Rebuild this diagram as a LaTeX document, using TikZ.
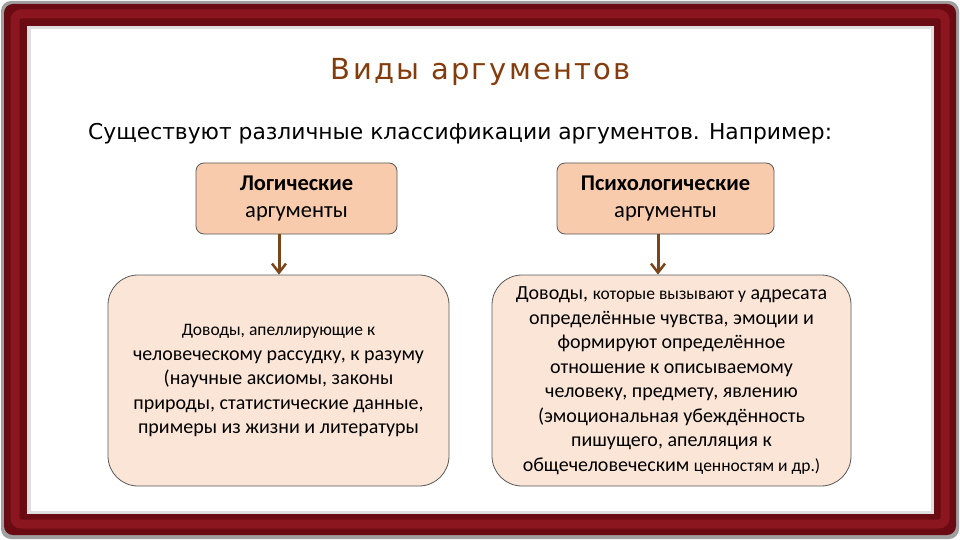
\documentclass[tikz,border=0pt]{standalone}
\usepackage{fontspec}
\setmainfont{Carlito}
\newfontfamily\dejavu{DejaVu Sans}
\usetikzlibrary{arrows.meta}
\definecolor{framered}{HTML}{6A0A12}
\definecolor{framemid}{HTML}{8C1620}
\definecolor{titlebrown}{HTML}{843C0C}
\definecolor{peach}{HTML}{F8CBAD}
\definecolor{lightpeach}{HTML}{FBE5D6}
\definecolor{arrbrown}{HTML}{7B4419}
\tikzset{
  smallbox/.style={draw=gray!70!black, fill=peach, rounded corners=8pt, line width=0.8pt, align=center, font=\fontsize{22.5}{27}\selectfont, inner sep=0pt},
  bigbox/.style={draw=gray!70!black, fill=lightpeach, rounded corners=30pt, line width=0.8pt, align=center, font=\fontsize{20}{24.5}\selectfont, inner sep=0pt},
  arr/.style={draw=arrbrown, line width=3pt, -{Straight Barb[length=9pt,width=14pt,line width=2.5pt]}}
}
\begin{document}
\begin{tikzpicture}[x=1pt,y=-1pt]
\useasboundingbox (0,0) rectangle (960,540);
% frame
\fill[gray!75, rounded corners=10pt] (1,1) rectangle (959,539);
\fill[framered, rounded corners=9pt] (4,4) rectangle (956,535);
\draw[framemid, line width=9pt, rounded corners=6pt] (15,14) rectangle (945,524);
\fill[gray!25] (27,26) rectangle (934,514);
\fill[white] (31,29) rectangle (931,511);
% title
\node[text=titlebrown] (title) at (481,72) {\dejavu\addfontfeatures{LetterSpace=8}\fontsize{29}{33}\selectfont Виды аргументов};
\node[anchor=base west, inner sep=0pt] (sub) at (88,140) {\dejavu\fontsize{21.8}{26}\selectfont Существуют различные классификации аргументов. Например:};
% boxes
\node[smallbox, minimum width=201, minimum height=71] (lt) at (296.5,198.5) {\textbf{Логические}\\аргументы};
\node[smallbox, minimum width=217, minimum height=71] (rt) at (665.5,198.5) {\textbf{Психологические}\\аргументы};
\node[bigbox, minimum width=341, minimum height=211] (lb) at (278.5,380.5) {{\fontsize{17.5}{24.5}\selectfont Доводы, апеллирующие к}\\человеческому рассудку, к разуму\\(научные аксиомы, законы\\природы, статистические данные,\\примеры из жизни и литературы};
\node[bigbox, minimum width=359, minimum height=211] (rb) at (671.5,380.5) {Доводы, {\fontsize{17.5}{24}\selectfont которые вызывают у} адресата\\определённые чувства, эмоции и\\формируют определённое\\отношение к описываемому\\человеку, предмету, явлению\\(эмоциональная убеждённость\\пишущего, апелляция к\\общечеловеческим {\fontsize{17.5}{24}\selectfont ценностям и др.)}};
% arrows
\coordinate (la) at (279,0);
\coordinate (ra) at (658,0);
\draw[arr] (lt.south -| la) -- (lb.north -| la);
\draw[arr] (rt.south -| ra) -- (rb.north -| ra);
\end{tikzpicture}
\end{document}
